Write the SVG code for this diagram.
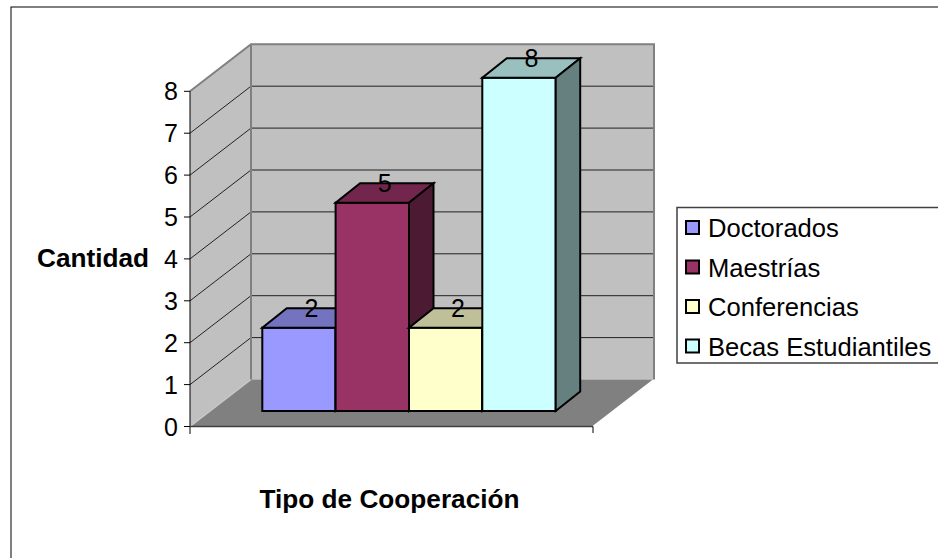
<svg xmlns="http://www.w3.org/2000/svg" width="938" height="558" viewBox="0 0 938 558">
<style>
text{font-family:"Liberation Sans",Arial,sans-serif;fill:#000}
.lbl{font-size:25px}
.ttl{font-size:26.2px;font-weight:bold}
.leg{font-size:25.6px}
.grid{stroke:#222;stroke-width:1;fill:none}
.wall{fill:#C0C0C0}
.edge{stroke:#808080;stroke-width:2;fill:none}
.bar{stroke:#000;stroke-width:2;stroke-linejoin:miter}
.tick{stroke:#000;stroke-width:1}
</style>
<rect x="11" y="7" width="940" height="560" fill="#fff" stroke="#000" stroke-width="1"/>
<g id="walls">
<polygon class="wall" points="190,91.3 251,44.3 251,379.5 190,426.5"/>
<rect class="wall" x="251" y="44.3" width="403" height="335.2"/>
<polygon points="190,426.5 251,379.5 654,379.5 593,426.5" fill="#808080"/>
<line x1="190" y1="426.5" x2="251" y2="379.5" stroke="#C8C8C8" stroke-width="1.5"/>
<line x1="593" y1="426.5" x2="654" y2="379.5" stroke="#fff" stroke-width="1.5"/>
<g class="grid">
<line x1="251" y1="337.6" x2="654" y2="337.6"/>
<line x1="251" y1="295.7" x2="654" y2="295.7"/>
<line x1="251" y1="253.8" x2="654" y2="253.8"/>
<line x1="251" y1="211.9" x2="654" y2="211.9"/>
<line x1="251" y1="170" x2="654" y2="170"/>
<line x1="251" y1="128.1" x2="654" y2="128.1"/>
<line x1="251" y1="86.2" x2="654" y2="86.2"/>
<line x1="190" y1="384.6" x2="251" y2="337.6"/>
<line x1="190" y1="342.7" x2="251" y2="295.7"/>
<line x1="190" y1="300.8" x2="251" y2="253.8"/>
<line x1="190" y1="258.9" x2="251" y2="211.9"/>
<line x1="190" y1="217" x2="251" y2="170"/>
<line x1="190" y1="175.1" x2="251" y2="128.1"/>
<line x1="190" y1="133.2" x2="251" y2="86.2"/>
</g>
<polyline class="edge" points="190,91.3 251,44.3 654,44.3 654,379.5"/>
<line class="edge" x1="251" y1="44.3" x2="251" y2="379.5"/>
</g>
<g id="axes">
<line x1="190" y1="91.3" x2="190" y2="434" class="tick"/>
<line x1="190" y1="426.5" x2="593" y2="426.5" stroke="#404040" stroke-width="1.5"/>
<line x1="593" y1="426.5" x2="593" y2="433" class="tick"/>
<g class="tick">
<line x1="184" y1="426.5" x2="190" y2="426.5"/>
<line x1="184" y1="384.6" x2="190" y2="384.6"/>
<line x1="184" y1="342.7" x2="190" y2="342.7"/>
<line x1="184" y1="300.8" x2="190" y2="300.8"/>
<line x1="184" y1="258.9" x2="190" y2="258.9"/>
<line x1="184" y1="217" x2="190" y2="217"/>
<line x1="184" y1="175.1" x2="190" y2="175.1"/>
<line x1="184" y1="133.2" x2="190" y2="133.2"/>
<line x1="184" y1="91.3" x2="190" y2="91.3"/>
</g>
<g class="lbl" text-anchor="end">
<text x="178" y="435.5">0</text>
<text x="178" y="393.5">1</text>
<text x="178" y="351.5">2</text>
<text x="178" y="309.5">3</text>
<text x="178" y="267.5">4</text>
<text x="178" y="225.5">5</text>
<text x="178" y="184">6</text>
<text x="178" y="142">7</text>
<text x="178" y="100">8</text>
</g>
<text class="ttl" x="37" y="266.5">Cantidad</text>
<text class="ttl" x="389.5" y="508" text-anchor="middle">Tipo de Cooperación</text>
</g>
<g id="bar-doctorados">
<rect class="bar" x="262.3" y="327.7" width="73.3" height="83.3" fill="#9999FF"/>
<polygon class="bar" points="262.3,327.7 335.6,327.7 360.1,308.2 286.8,308.2" fill="#7373BF"/>
<polygon class="bar" points="335.6,327.7 360.1,308.2 360.1,391.5 335.6,411" fill="#4D4D80"/>
<text class="lbl" x="311.5" y="317" text-anchor="middle">2</text>
</g>
<g id="bar-maestrias">
<rect class="bar" x="335.6" y="202.7" width="73.4" height="208.3" fill="#993366"/>
<polygon class="bar" points="335.6,202.7 409,202.7 433.5,183.2 360.1,183.2" fill="#73264D"/>
<polygon class="bar" points="409,202.7 433.5,183.2 433.5,391.5 409,411" fill="#4D1A33"/>
<text class="lbl" x="384.8" y="192" text-anchor="middle">5</text>
</g>
<g id="bar-conferencias">
<rect class="bar" x="409" y="327.7" width="73.3" height="83.3" fill="#FFFFCC"/>
<polygon class="bar" points="409,327.7 482.3,327.7 506.8,308.2 433.5,308.2" fill="#BFBF99"/>
<polygon class="bar" points="482.3,327.7 506.8,308.2 506.8,391.5 482.3,411" fill="#808066"/>
<text class="lbl" x="458" y="317" text-anchor="middle">2</text>
</g>
<g id="bar-becas">
<rect class="bar" x="482.3" y="77.7" width="73.4" height="333.3" fill="#CCFFFF"/>
<polygon class="bar" points="482.3,77.7 555.7,77.7 580.2,58.2 506.8,58.2" fill="#99BFBF"/>
<polygon class="bar" points="555.7,77.7 580.2,58.2 580.2,391.5 555.7,411" fill="#668080"/>
<text class="lbl" x="531.5" y="67" text-anchor="middle">8</text>
</g>
<g id="legend">
<rect x="677" y="207.5" width="280" height="155.5" fill="#fff" stroke="#404040" stroke-width="1.5"/>
<rect x="686" y="221" width="13" height="13" fill="#9999FF" stroke="#000" stroke-width="2"/>
<rect x="686" y="260.5" width="13" height="13" fill="#993366" stroke="#000" stroke-width="2"/>
<rect x="686" y="300" width="13" height="13" fill="#FFFFCC" stroke="#000" stroke-width="2"/>
<rect x="686" y="339.5" width="13" height="13" fill="#CCFFFF" stroke="#000" stroke-width="2"/>
<text class="leg" x="708" y="237">Doctorados</text>
<text class="leg" x="708" y="276.5">Maestrías</text>
<text class="leg" x="708" y="316">Conferencias</text>
<text class="leg" x="708" y="355.5">Becas Estudiantiles</text>
</g>
</svg>
